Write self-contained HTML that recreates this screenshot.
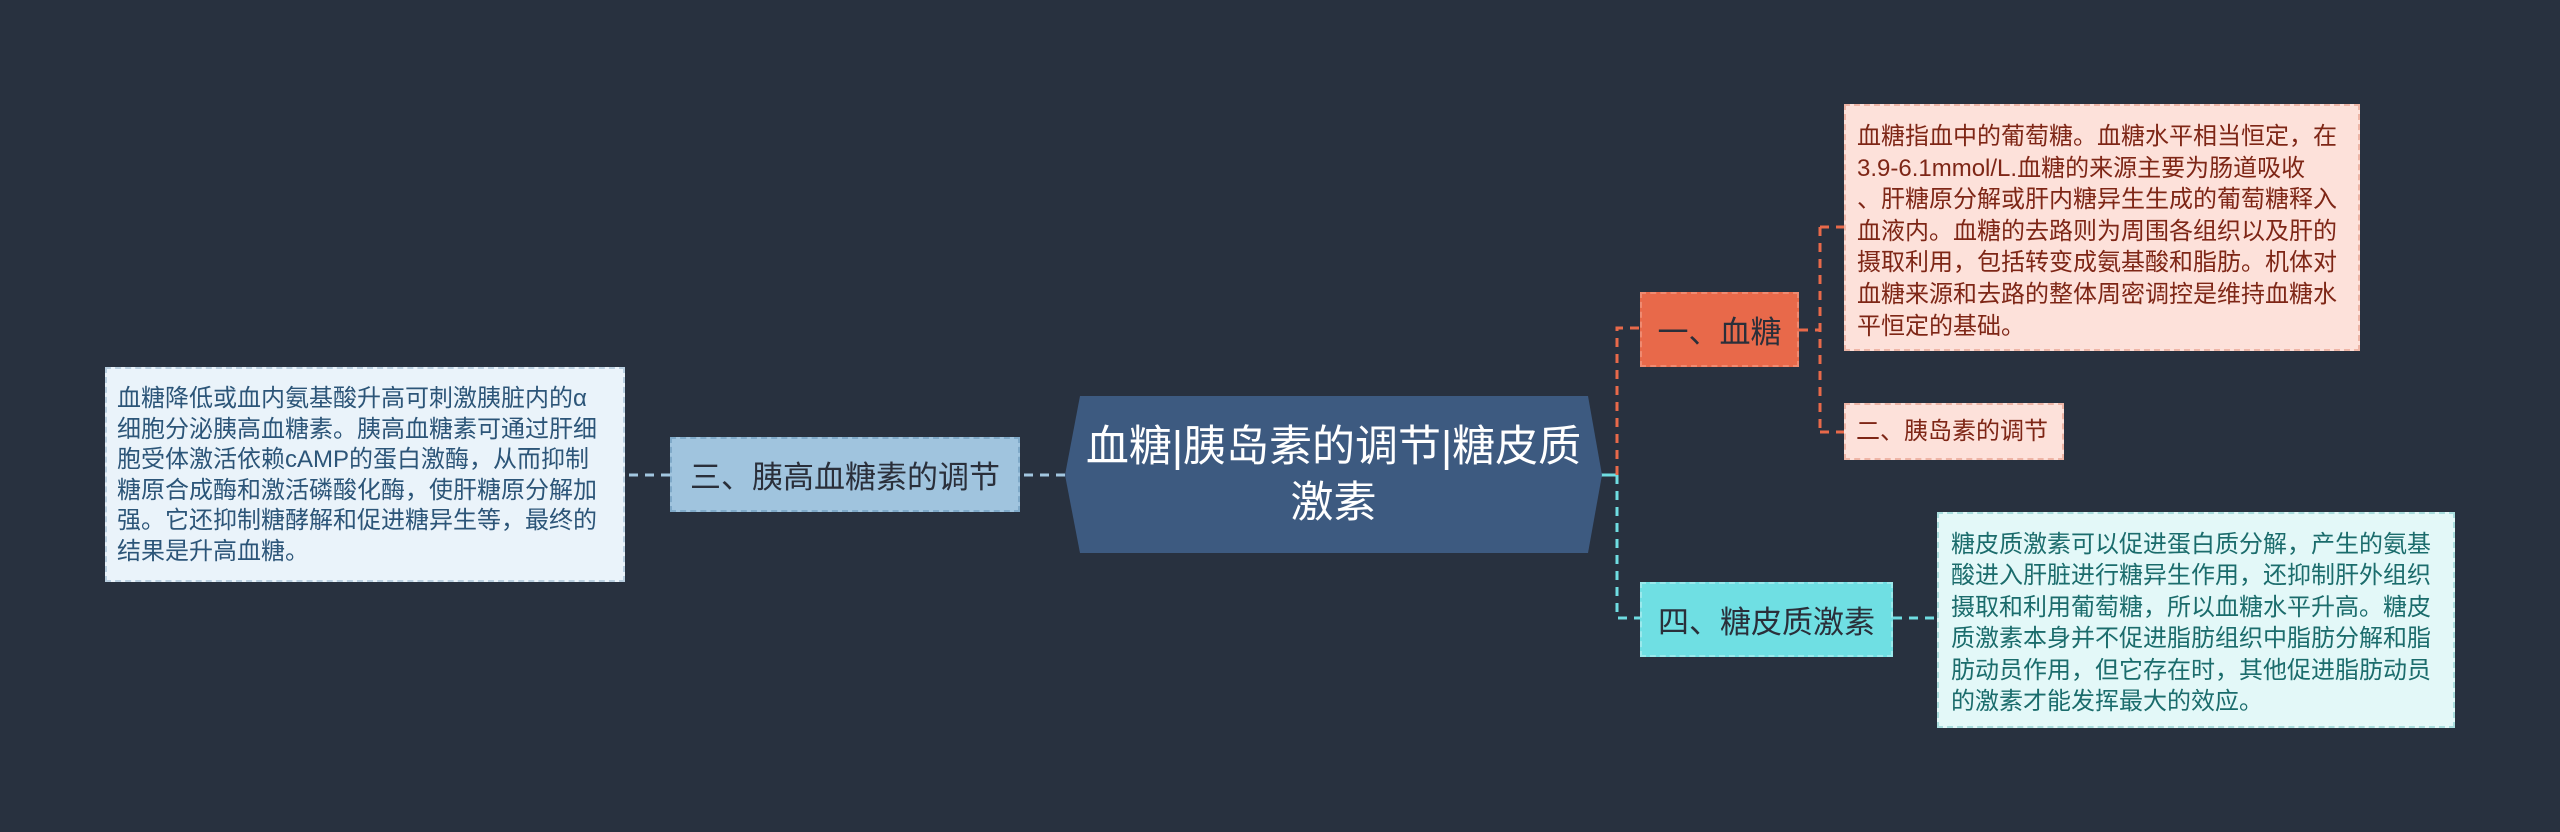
<!DOCTYPE html>
<html><head><meta charset="utf-8"><style>
*{margin:0;padding:0;box-sizing:border-box}
body{width:2560px;height:832px;background:#28313f;position:relative;overflow:hidden;font-family:"Liberation Sans","Noto Sans CJK SC",sans-serif}
.b{position:absolute;border:2px dashed}
.t{position:absolute;white-space:nowrap;font-size:24px;line-height:31.6px}
.n{position:absolute;display:flex;align-items:center;justify-content:center;font-size:31px;color:#2a2f3a;border:2px dashed}
svg{position:absolute;left:0;top:0}
</style></head><body>
<svg width="2560" height="832">
<g fill="none" stroke-width="3">
<path d="M1600 475 H1617" stroke="#6fdde2"/>
<path d="M1617 475 V328 H1640" stroke="#e8694a" stroke-dasharray="9 7"/>
<path d="M1617 475 V618 H1640" stroke="#6fdde2" stroke-dasharray="9 7"/>
<path d="M1799 330 H1820 M1820 227 V432 M1820 227 H1844 M1820 432 H1844" stroke="#e8694a" stroke-dasharray="9 7"/>
<path d="M1893 618 H1937" stroke="#6fdde2" stroke-dasharray="9 7"/>
<path d="M1065 475 H1020 M670 475 H625" stroke="#a3c7e0" stroke-dasharray="9 7"/>
<polygon points="1080,396 1588,396 1602,475 1588,553 1080,553 1065,475" fill="#3d5a80" stroke="none"/>
</g>
</svg>
<div style="position:absolute;left:1065px;top:396px;width:537px;height:157px;color:#fff;font-size:43px;line-height:56px;text-align:center;padding-top:23px">血糖|胰岛素的调节|糖皮质<br>激素</div>

<div class="n" style="left:670px;top:437px;width:350px;height:75px;background:#a0c4de;border-color:#7fa9c8">三、胰高血糖素的调节</div>
<div class="b" style="left:105px;top:367px;width:520px;height:215px;background:#eaf3fa;border-color:#b9cfe0"></div>
<div class="t" style="left:117px;top:384px;color:#2c5578;line-height:30.6px">血糖降低或血内氨基酸升高可刺激胰脏内的α<br>细胞分泌胰高血糖素。胰高血糖素可通过肝细<br>胞受体激活依赖cAMP的蛋白激酶，从而抑制<br>糖原合成酶和激活磷酸化酶，使肝糖原分解加<br>强。它还抑制糖酵解和促进糖异生等，最终的<br>结果是升高血糖。</div>

<div class="n" style="left:1640px;top:292px;width:159px;height:75px;background:#e8694a;border-color:#f08a70">一、血糖</div>
<div class="b" style="left:1844px;top:104px;width:516px;height:247px;background:#fde1da;border-color:#eeb5a6"></div>
<div class="t" style="left:1857px;top:121px;color:#7e2616">血糖指血中的葡萄糖。血糖水平相当恒定，在<br>3.9-6.1mmol/L.血糖的来源主要为肠道吸收<br>、肝糖原分解或肝内糖异生生成的葡萄糖释入<br>血液内。血糖的去路则为周围各组织以及肝的<br>摄取利用，包括转变成氨基酸和脂肪。机体对<br>血糖来源和去路的整体周密调控是维持血糖水<br>平恒定的基础。</div>
<div class="b" style="left:1844px;top:403px;width:220px;height:57px;background:#fde1da;border-color:#eeb5a6"></div>
<div class="t" style="left:1856px;top:416px;color:#7e2616">二、胰岛素的调节</div>

<div class="n" style="left:1640px;top:582px;width:253px;height:75px;background:#6fdfe3;border-color:#9ae9ec">四、糖皮质激素</div>
<div class="b" style="left:1937px;top:512px;width:518px;height:216px;background:#e3f8f8;border-color:#a9dede"></div>
<div class="t" style="left:1951px;top:529px;color:#1b6c6c;line-height:31.4px">糖皮质激素可以促进蛋白质分解，产生的氨基<br>酸进入肝脏进行糖异生作用，还抑制肝外组织<br>摄取和利用葡萄糖，所以血糖水平升高。糖皮<br>质激素本身并不促进脂肪组织中脂肪分解和脂<br>肪动员作用，但它存在时，其他促进脂肪动员<br>的激素才能发挥最大的效应。</div>
</body></html>
